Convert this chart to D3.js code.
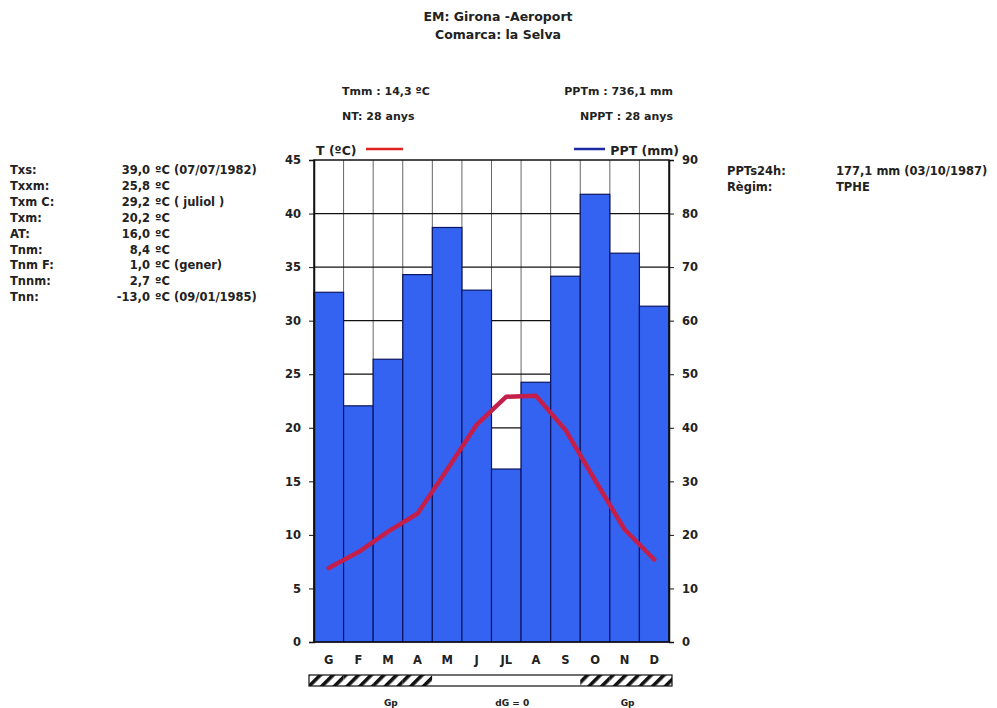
<!DOCTYPE html>
<html>
<head>
<meta charset="utf-8">
<script src="https://cdn.jsdelivr.net/npm/d3@7"></script>
<style>
  body { margin: 0; background: #fff; }
  svg text { font-family: "DejaVu Sans", Verdana, sans-serif; font-weight: bold; fill: #222; }
</style>
</head>
<body>
<div id="chart"></div>
<script>
const months = ["G", "F", "M", "A", "M ", "J", "JL", "A ", "S", "O", "N", "D"];
const monthLabels = ["G", "F", "M", "A", "M", "J", "JL", "A", "S", "O", "N", "D"];
const precip = [65.3, 44.1, 52.8, 68.6, 77.4, 65.7, 32.3, 48.5, 68.3, 83.6, 72.6, 62.7];
const temp = [6.9, 8.4, 10.3, 12.0, 16.1, 20.3, 22.9, 23.0, 19.8, 15.1, 10.5, 7.7];
const periods = ["Gp", "Gp", "Gp", "Gp", "dG", "dG", "dG", "dG", "dG", "Gp", "Gp", "Gp"];
// label position in months from the left edge
const periodLabels = [
  { at: 2.6, text: "Gp" },
  { at: 6.7, text: "dG = 0" },
  { at: 10.6, text: "Gp" },
];
const tempTicks = [0, 5, 10, 15, 20, 25, 30, 35, 40, 45];
const precipTicks = [0, 10, 20, 30, 40, 50, 60, 70, 80, 90];
const leftStats = [
  ["Txs:", "39,0", "ºC (07/07/1982)"],
  ["Txxm:", "25,8", "ºC"],
  ["Txm C:", "29,2", "ºC ( juliol )"],
  ["Txm:", "20,2", "ºC"],
  ["AT:", "16,0", "ºC"],
  ["Tnm:", "8,4", "ºC"],
  ["Tnm F:", "1,0", " ºC (gener)"],
  ["Tnnm:", "2,7", "ºC"],
  ["Tnn:", "-13,0", "ºC (09/01/1985)"],
];
const rightStats = [
  ["PPTs24h:", "177,1 mm  (03/10/1987)"],
  ["Règim:", "TPHE"],
];

const width = 997, height = 708;
const plotLeft = 314, plotRight = 669, plotTop = 160, plotBottom = 642;

const svg = d3.select("#chart").append("svg")
  .attr("width", width).attr("height", height);

const defs = svg.append("defs");
const pattern = defs.append("pattern")
  .attr("id", "hatch")
  .attr("patternUnits", "userSpaceOnUse")
  .attr("width", 9).attr("height", 9)
  .attr("patternTransform", "rotate(45)");
pattern.append("rect").attr("width", 9).attr("height", 9).attr("fill", "#fff");
pattern.append("rect").attr("width", 3.6).attr("height", 9).attr("fill", "#111");

const x = d3.scaleBand().domain(months).range([plotLeft, plotRight]).padding(0);
const yT = d3.scaleLinear().domain([0, 45]).range([plotBottom, plotTop]);
const yP = d3.scaleLinear().domain([0, 90]).range([plotBottom, plotTop]);

// titles
svg.append("text").attr("x", 498).attr("y", 21).attr("text-anchor", "middle")
  .attr("font-size", 12.5).text("EM: Girona -Aeroport");
svg.append("text").attr("x", 498).attr("y", 39).attr("text-anchor", "middle")
  .attr("font-size", 12.5).text("Comarca:  la Selva");

svg.append("text").attr("x", 342).attr("y", 95).attr("font-size", 11).text("Tmm : 14,3 ºC");
svg.append("text").attr("x", 342).attr("y", 120).attr("font-size", 11).text("NT: 28 anys");
svg.append("text").attr("x", 673).attr("y", 95).attr("text-anchor", "end").attr("font-size", 11).text("PPTm :  736,1  mm");
svg.append("text").attr("x", 673).attr("y", 120).attr("text-anchor", "end").attr("font-size", 11).text("NPPT : 28 anys");

// side stats
const ls = svg.append("g").attr("font-size", 11.5);
leftStats.forEach((r, i) => {
  const yy = 174 + i * 15.9;
  ls.append("text").attr("x", 10).attr("y", yy).text(r[0]);
  ls.append("text").attr("x", 150).attr("y", yy).attr("text-anchor", "end").text(r[1]);
  ls.append("text").attr("x", 155).attr("y", yy).text(r[2]);
});
const rs = svg.append("g").attr("font-size", 11.5);
rightStats.forEach((r, i) => {
  const yy = 175 + i * 15.5;
  rs.append("text").attr("x", 727).attr("y", yy).text(r[0]);
  rs.append("text").attr("x", 836).attr("y", yy).text(r[1]);
});

// legend
svg.append("text").attr("x", 316).attr("y", 155).attr("font-size", 12.5).text("T (ºC)");
svg.append("line").attr("x1", 366).attr("x2", 403).attr("y1", 149).attr("y2", 149)
  .attr("stroke", "#e0231f").attr("stroke-width", 2.5);
svg.append("line").attr("x1", 574).attr("x2", 605).attr("y1", 149).attr("y2", 149)
  .attr("stroke", "#1a2aa0").attr("stroke-width", 2.5);
svg.append("text").attr("x", 679).attr("y", 155).attr("text-anchor", "end").attr("font-size", 12.5).text("PPT (mm)");

// grid
const grid = svg.append("g");
grid.selectAll("line.v").data(months.slice(1)).join("line")
  .attr("x1", d => x(d)).attr("x2", d => x(d))
  .attr("y1", plotTop).attr("y2", plotBottom)
  .attr("stroke", "#666").attr("stroke-width", 1);
grid.selectAll("line.h").data(tempTicks.slice(1, -1)).join("line")
  .attr("x1", plotLeft).attr("x2", plotRight)
  .attr("y1", d => yT(d)).attr("y2", d => yT(d))
  .attr("stroke", "#111").attr("stroke-width", 1.3);

// bars
svg.append("g").selectAll("rect").data(precip).join("rect")
  .attr("x", (d, i) => x(months[i]))
  .attr("width", x.bandwidth())
  .attr("y", d => yP(d))
  .attr("height", d => plotBottom - yP(d))
  .attr("fill", "#3463f2")
  .attr("stroke", "#0b1660").attr("stroke-width", 1.2);

// frame
svg.append("rect").attr("x", plotLeft).attr("y", plotTop)
  .attr("width", plotRight - plotLeft).attr("height", plotBottom - plotTop)
  .attr("fill", "none").attr("stroke", "#111").attr("stroke-width", 1.5);

// temperature line
const line = d3.line()
  .x((d, i) => x(months[i]) + x.bandwidth() / 2)
  .y(d => yT(d));
svg.append("path").datum(temp)
  .attr("d", line)
  .attr("fill", "none")
  .attr("stroke", "#c41f4a")
  .attr("stroke-width", 4.5)
  .attr("stroke-linejoin", "round")
  .attr("stroke-linecap", "round");

// axes
const axL = svg.append("g").attr("transform", `translate(${plotLeft},0)`)
  .call(d3.axisLeft(yT).tickValues(tempTicks).tickSize(5).tickPadding(8));
const axR = svg.append("g").attr("transform", `translate(${plotRight},0)`)
  .call(d3.axisRight(yP).tickValues(precipTicks).tickSize(5).tickPadding(8));
[axL, axR].forEach(a => {
  a.select(".domain").attr("stroke", "#111").attr("stroke-width", 1.5);
  a.selectAll(".tick line").attr("stroke", "#111");
  a.selectAll(".tick text").attr("font-size", 11.5).attr("font-family", null).style("fill", "#222");
});

const axB = svg.append("g").attr("transform", `translate(0,${plotBottom})`)
  .call(d3.axisBottom(x).tickSize(0).tickPadding(14).tickFormat((d, i) => monthLabels[i]));
axB.select(".domain").remove();
axB.selectAll(".tick text").attr("font-size", 11.5).attr("font-family", null).style("fill", "#222");

// period bar
const pb = svg.append("g");
const barY = 675, barH = 11;
pb.selectAll("rect").data(periods).join("rect")
  .attr("x", (d, i) => x(months[i]) - (i === 0 ? 5 : 0))
  .attr("width", (d, i) => x.bandwidth() + (i === 0 ? 5 : 0) + (i === 11 ? 3 : 0))
  .attr("y", barY).attr("height", barH)
  .attr("fill", d => d === "Gp" ? "url(#hatch)" : "#fff")
  .attr("stroke", "none");
pb.append("rect")
  .attr("x", plotLeft - 5).attr("y", barY)
  .attr("width", plotRight - plotLeft + 8).attr("height", barH)
  .attr("fill", "none").attr("stroke", "#111").attr("stroke-width", 1.2);
pb.selectAll("text").data(periodLabels).join("text")
  .attr("x", d => plotLeft + d.at * x.bandwidth())
  .attr("y", 706)
  .attr("text-anchor", "middle")
  .attr("font-size", 9)
  .text(d => d.text);
</script>
</body>
</html>
